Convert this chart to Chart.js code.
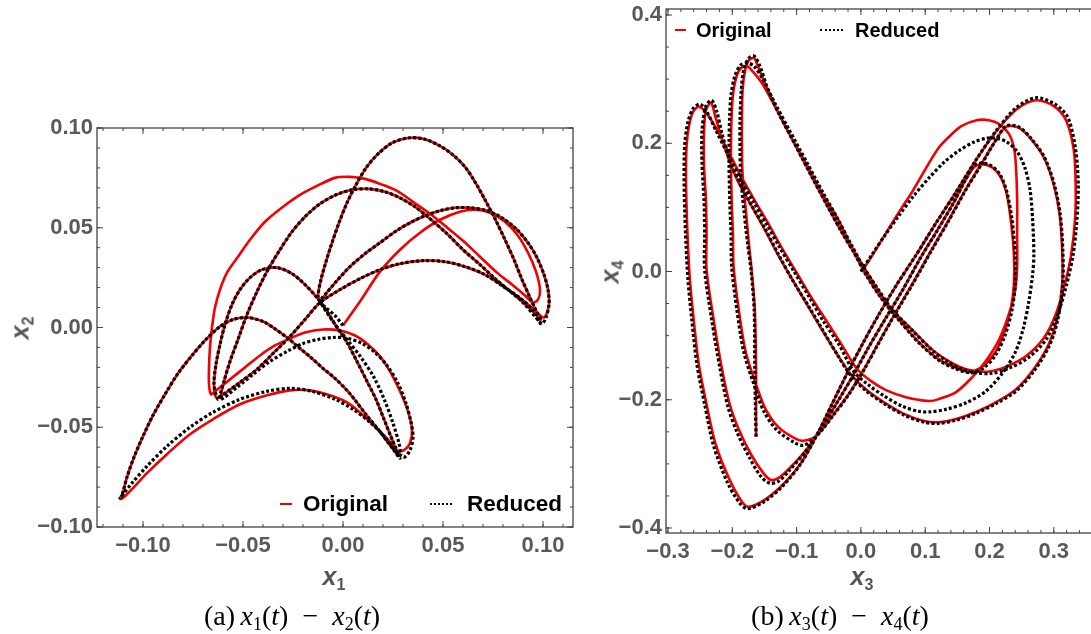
<!DOCTYPE html>
<html>
<head>
<meta charset="utf-8">
<script src="https://cdn.jsdelivr.net/npm/chart.js@4.4.1/dist/chart.umd.min.js"></script>
<style>
  body { margin: 0; width: 1091px; height: 634px; overflow: hidden; position: relative; background: #fff; font-family: "Liberation Sans", Arial, sans-serif; }
  canvas { position: absolute; }
  .sw { position: absolute; }
  .red { height: 2px; background: rgb(240,0,0); }
  .dot { border-top: 2px dotted #000; }
  .lt { position: absolute; font-weight: bold; color: #000; line-height: 1; transform: translateY(-50%); }
  .ax { position: absolute; font-weight: bold; font-style: italic; font-size: 25px; color: #555; line-height: 1; white-space: nowrap; }
  .ax sub { font-size: 16px; font-style: normal; vertical-align: -5px; }
  .cap { position: absolute; font-family: "Liberation Serif", "DejaVu Serif", serif; font-size: 28px; color: #000; white-space: nowrap; transform: translate(-50%, -50%); }
  .cap sub { font-size: 18px; vertical-align: -5px; }
</style>
</head>
<body>
<canvas id="chartA" width="600" height="600" style="left:0;top:0"></canvas>
<canvas id="chartB" width="520" height="630" style="left:590px;top:-30px"></canvas>

<!-- legends -->
<div class="sw red" style="left:280px;top:503px;width:12px"></div>
<div class="lt" style="left:303px;top:504px;font-size:22.5px">Original</div>
<div class="sw dot" style="left:430px;top:503px;width:22px"></div>
<div class="lt" style="left:467px;top:504px;font-size:22.5px">Reduced</div>

<div class="sw red" style="left:675px;top:29px;width:11px"></div>
<div class="lt" style="left:696px;top:30px;font-size:20px">Original</div>
<div class="sw dot" style="left:820px;top:29px;width:23px"></div>
<div class="lt" style="left:855px;top:30px;font-size:20px">Reduced</div>

<!-- axis titles -->
<div class="ax" style="left:334px;top:578px;transform:translate(-50%,-50%)">x<sub>1</sub></div>
<div class="ax" style="left:22px;top:328px;transform:translate(-50%,-50%) rotate(-90deg)">x<sub>2</sub></div>
<div class="ax" style="left:862px;top:578px;transform:translate(-50%,-50%)">x<sub>3</sub></div>
<div class="ax" style="left:612px;top:272px;transform:translate(-50%,-50%) rotate(-90deg)">x<sub>4</sub></div>

<!-- captions -->
<div class="cap" style="left:292px;top:617px">(a)&thinsp;<i>x</i><sub>1</sub>(<i>t</i>) &nbsp;&minus;&nbsp; <i>x</i><sub>2</sub>(<i>t</i>)</div>
<div class="cap" style="left:840px;top:617px">(b)&thinsp;<i>x</i><sub>3</sub>(<i>t</i>) &nbsp;&minus;&nbsp; <i>x</i><sub>4</sub>(<i>t</i>)</div>

<script>
// tick labels
const xTicksA = [-0.10, -0.05, 0, 0.05, 0.10];
const yTicksA = [-0.10, -0.05, 0, 0.05, 0.10];
const xTicksB = [-0.3, -0.2, -0.1, 0, 0.1, 0.2, 0.3];
const yTicksB = [-0.4, -0.2, 0, 0.2, 0.4];
const seriesNames = ['Original', 'Reduced'];

// (a) x1 - x2, original model  [x1, x2]
const origA = [
  [0.000,0.001],[0.0085,0.013],[0.0185,0.028],[0.0285,0.039],[0.0385,0.0475],[0.0485,0.054],[0.0585,0.058],[0.066,0.059],[0.0735,0.0575],[0.081,0.053],[0.0875,0.046],[0.0925,0.0375],[0.0965,0.028],[0.0985,0.019],[0.0975,0.014],[0.095,0.0125],
  [0.091,0.016],[0.0845,0.0215],[0.077,0.0275],[0.0685,0.0355],[0.06,0.0435],[0.051,0.051],[0.0435,0.057],[0.035,0.063],[0.027,0.0685],[0.0185,0.072],[0.011,0.0745],[0.0035,0.0755],[-0.004,0.075],[-0.013,0.071],[-0.0215,0.0665],[-0.03,0.0605],[-0.039,0.053],[-0.0465,0.044],[-0.0525,0.0355],[-0.058,0.0275],[-0.0615,0.019],[-0.064,0.01],[-0.0655,0.0],[-0.0665,-0.01],[-0.067,-0.02],[-0.067,-0.0285],[-0.066,-0.0335],
  [-0.064,-0.032],[-0.0565,-0.026],[-0.049,-0.02],[-0.0415,-0.014],[-0.034,-0.009],[-0.0265,-0.0055],[-0.019,-0.0025],[-0.01,-0.001],[-0.0015,-0.0015],[0.006,-0.004],[0.0125,-0.0085],[0.0185,-0.0145],[0.0235,-0.022],[0.0285,-0.032],[0.0325,-0.042],[0.0345,-0.051],[0.0335,-0.058],[0.0305,-0.0615],[0.0275,-0.062],
  [0.0245,-0.0585],[0.0185,-0.052],[0.011,-0.045],[0.0035,-0.0385],[-0.005,-0.0345],[-0.0165,-0.0315],[-0.0265,-0.0315],[-0.038,-0.034],[-0.0515,-0.0385],[-0.065,-0.046],[-0.0765,-0.0535],[-0.088,-0.0635],[-0.098,-0.073],[-0.1055,-0.081],[-0.1095,-0.085],[-0.111,-0.086],
  [-0.1105,-0.0845],[-0.108,-0.075],[-0.1045,-0.065],[-0.1,-0.0545],[-0.095,-0.044],[-0.089,-0.0335],[-0.0825,-0.023],[-0.0755,-0.014],[-0.0685,-0.006],[-0.0615,0.0005],[-0.055,0.004],[-0.0475,0.005],[-0.04,0.003],[-0.035,0.0],[-0.028,-0.005],[-0.0215,-0.0105],[-0.0155,-0.0155],[-0.01,-0.0205],[-0.004,-0.0255],[0.002,-0.0315],[0.0065,-0.037],[0.011,-0.043],[0.0175,-0.051],[0.0235,-0.059],[0.0275,-0.064],
  [0.0245,-0.056],[0.0205,-0.046],[0.0165,-0.036],[0.012,-0.027],[0.007,-0.017],[0.002,-0.0075],[-0.003,0.0],[-0.008,0.008],[-0.013,0.015],[-0.019,0.0215],[-0.0255,0.027],[-0.033,0.03],[-0.0405,0.029],[-0.0465,0.025],[-0.0515,0.019],[-0.0555,0.0115],[-0.059,0.0015],[-0.0615,-0.0085],[-0.0635,-0.0185],[-0.0645,-0.0285],[-0.0635,-0.035],
  [-0.0605,-0.034],[-0.0515,-0.0275],[-0.0425,-0.0205],[-0.034,-0.012],[-0.0265,-0.0045],[-0.019,0.004],[-0.0115,0.0125],[-0.0015,0.019],[0.0085,0.0245],[0.0185,0.029],[0.0285,0.032],[0.04,0.0335],[0.051,0.033],[0.061,0.0305],[0.071,0.0265],[0.081,0.02],[0.0895,0.014],[0.096,0.0085],[0.1005,0.005],
  [0.103,0.0115],[0.1025,0.019],[0.1005,0.0265],[0.097,0.035],[0.0925,0.0425],[0.0865,0.0495],[0.0795,0.055],[0.072,0.0585],[0.0635,0.06],[0.056,0.06],[0.0485,0.0585],[0.041,0.056],[0.0335,0.0525],[0.026,0.048],[0.0185,0.0425],[0.011,0.037],[0.0035,0.0305],[-0.003,0.0235],[-0.0085,0.017],[-0.0115,0.013],
  [-0.0125,0.016],[-0.011,0.024],[-0.0085,0.033],[-0.0055,0.0425],[-0.002,0.0525],[0.002,0.0625],[0.0065,0.0715],[0.0115,0.08],[0.0175,0.087],[0.0245,0.0925],[0.0325,0.095],[0.0405,0.0945],[0.0485,0.091],[0.055,0.0865],[0.061,0.0805],[0.066,0.073],[0.071,0.064],[0.076,0.0545],[0.081,0.044],[0.0855,0.034],[0.0895,0.024],[0.0935,0.015],[0.097,0.0075],[0.099,0.004],
  [0.097,0.006],[0.0895,0.013],[0.0825,0.019],[0.076,0.0245],[0.0685,0.0315],[0.06,0.039],[0.052,0.047],[0.0435,0.0545],[0.036,0.0605],[0.0285,0.065],[0.021,0.068],[0.013,0.0695],[0.0045,0.069],[-0.0035,0.0665],[-0.0115,0.062],[-0.019,0.0555],[-0.0255,0.048],[-0.0315,0.039],[-0.0375,0.029],[-0.043,0.018],[-0.048,0.0065],[-0.0525,-0.006],[-0.0565,-0.017],[-0.0595,-0.027],[-0.0615,-0.036]
];

// (a) x1 - x2, reduced model
const redA = [
  [0.0,0.001],[-0.004,0.006],[-0.008,0.0095],[-0.0115,0.013],
  [-0.0085,0.017],[-0.003,0.0235],[0.0035,0.0305],[0.011,0.037],[0.0185,0.0425],[0.026,0.048],[0.0335,0.0525],[0.041,0.056],[0.0485,0.0585],[0.056,0.06],[0.0635,0.06],[0.072,0.0585],[0.0795,0.055],[0.0865,0.0495],[0.0925,0.0425],[0.097,0.035],[0.1005,0.0265],[0.1025,0.019],[0.103,0.0115],[0.1015,0.005],[0.0995,0.002],
  [0.0965,0.005],[0.0895,0.013],[0.0825,0.019],[0.076,0.0245],[0.0685,0.0315],[0.06,0.039],[0.052,0.047],[0.0435,0.0545],[0.036,0.0605],[0.0285,0.065],[0.021,0.068],[0.013,0.0695],[0.0045,0.069],[-0.0035,0.0665],[-0.0115,0.062],[-0.019,0.0555],[-0.0255,0.048],[-0.0315,0.039],[-0.0375,0.029],[-0.043,0.018],[-0.048,0.0065],[-0.0525,-0.006],[-0.0565,-0.017],[-0.0595,-0.027],[-0.0615,-0.036],
  [-0.053,-0.03],[-0.045,-0.0235],[-0.0365,-0.017],[-0.028,-0.012],[-0.02,-0.008],[-0.0125,-0.006],[-0.005,-0.005],[0.0025,-0.0055],[0.0095,-0.008],[0.016,-0.0125],[0.022,-0.019],[0.0275,-0.028],[0.0315,-0.038],[0.034,-0.0475],[0.035,-0.055],[0.0335,-0.0615],[0.0305,-0.065],
  [0.0265,-0.062],[0.021,-0.055],[0.0135,-0.0475],[0.005,-0.041],[-0.004,-0.036],[-0.0155,-0.032],[-0.0265,-0.0305],[-0.038,-0.032],[-0.0515,-0.036],[-0.065,-0.0425],[-0.0765,-0.05],[-0.088,-0.0595],[-0.098,-0.0695],[-0.1055,-0.078],[-0.1095,-0.083],[-0.1115,-0.0855],
  [-0.1105,-0.084],[-0.108,-0.075],[-0.1045,-0.065],[-0.1,-0.0545],[-0.095,-0.044],[-0.089,-0.0335],[-0.0825,-0.023],[-0.0755,-0.014],[-0.0685,-0.006],[-0.0615,0.0005],[-0.055,0.004],[-0.0475,0.005],[-0.04,0.003],[-0.035,0.0],[-0.028,-0.005],[-0.0215,-0.0105],[-0.0155,-0.0155],[-0.01,-0.0205],[-0.004,-0.0255],[0.002,-0.0315],[0.0065,-0.037],[0.011,-0.043],[0.0175,-0.051],[0.024,-0.0595],[0.0285,-0.0655],
  [0.0245,-0.056],[0.0205,-0.046],[0.0165,-0.036],[0.012,-0.027],[0.007,-0.017],[0.002,-0.0075],[-0.003,0.0],[-0.008,0.008],[-0.013,0.015],[-0.019,0.0215],[-0.0255,0.027],[-0.033,0.03],[-0.0405,0.029],[-0.0465,0.025],[-0.0515,0.019],[-0.0555,0.0115],[-0.059,0.0015],[-0.0615,-0.0085],[-0.0635,-0.0185],[-0.0645,-0.0285],[-0.0625,-0.036],
  [-0.0605,-0.034],[-0.0515,-0.0275],[-0.0425,-0.0205],[-0.034,-0.012],[-0.0265,-0.0045],[-0.019,0.004],[-0.0115,0.0125],[-0.0015,0.019],[0.0085,0.0245],[0.0185,0.029],[0.0285,0.032],[0.04,0.0335],[0.051,0.033],[0.061,0.0305],[0.071,0.0265],[0.081,0.02],[0.0895,0.014],[0.096,0.0075],[0.0985,0.002],
  [0.099,0.004],[0.097,0.0075],[0.0935,0.015],[0.0895,0.024],[0.0855,0.034],[0.081,0.044],[0.076,0.0545],[0.071,0.064],[0.066,0.073],[0.061,0.0805],[0.055,0.0865],[0.0485,0.091],[0.0405,0.0945],[0.0325,0.095],[0.0245,0.0925],[0.0175,0.087],[0.0115,0.08],[0.0065,0.0715],[0.002,0.0625],[-0.002,0.0525],[-0.0055,0.0425],[-0.0085,0.033],[-0.011,0.024],[-0.0125,0.016],
  [-0.0115,0.013],[-0.005,0.003],[0.002,-0.006],[0.009,-0.015],[0.0155,-0.025],[0.021,-0.037],[0.025,-0.048],[0.028,-0.058],[0.029,-0.064]
];

// (b) x3 - x4, original model  [x3, x4]
const origB = [
  [0.000,0.000],[0.012,0.016],[0.028,0.042],[0.047,0.073],[0.064,0.100],[0.079,0.123],[0.100,0.159],[0.121,0.193],[0.140,0.213],[0.157,0.227],[0.180,0.236],[0.199,0.236],[0.215,0.230],[0.230,0.215],[0.238,0.193],[0.241,0.166],[0.243,0.112],[0.243,0.058],[0.243,0.008],[0.240,-0.028],[0.230,-0.067],[0.215,-0.106],[0.194,-0.140],[0.173,-0.165],[0.148,-0.188],[0.121,-0.199],[0.106,-0.202],[0.070,-0.196],[0.039,-0.185],[0.016,-0.171],[-0.006,-0.152],
  [-0.030,-0.114],[-0.053,-0.078],[-0.078,-0.039],[-0.101,0.000],[-0.123,0.037],[-0.143,0.073],[-0.163,0.107],[-0.185,0.146],[-0.205,0.185],[-0.224,0.221],[-0.240,0.247],[-0.252,0.257],[-0.261,0.249],[-0.267,0.229],[-0.271,0.198],[-0.272,0.151],[-0.271,0.096],[-0.269,0.042],[-0.266,-0.012],[-0.260,-0.075],[-0.252,-0.145],[-0.240,-0.207],[-0.226,-0.269],[-0.205,-0.323],[-0.185,-0.359],[-0.174,-0.367],[-0.148,-0.355],[-0.120,-0.331],[-0.092,-0.297],
  [-0.068,-0.254],[-0.045,-0.207],[-0.022,-0.160],[0.002,-0.114],[0.028,-0.067],[0.056,-0.020],[0.086,0.026],[0.117,0.076],[0.148,0.124],[0.179,0.174],[0.210,0.218],[0.241,0.252],[0.272,0.267],[0.300,0.258],[0.319,0.236],[0.331,0.190],[0.334,0.135],[0.333,0.081],[0.327,0.026],[0.317,-0.020],[0.303,-0.067],[0.285,-0.103],[0.258,-0.131],[0.227,-0.148],[0.199,-0.156],[0.171,-0.154],[0.152,-0.148],[0.132,-0.137],[0.110,-0.121],[0.079,-0.090],[0.048,-0.059],[0.023,-0.023],[0.002,0.011],[-0.016,0.042],[-0.037,0.084],[-0.061,0.123],[-0.086,0.170],[-0.112,0.216],[-0.135,0.260],[-0.154,0.294],[-0.170,0.314],[-0.177,0.320],[-0.187,0.317],[-0.194,0.302],[-0.199,0.275],[-0.201,0.244],[-0.202,0.205],[-0.202,0.163],[-0.201,0.112],[-0.199,0.058],[-0.198,0.008],[-0.190,-0.059],[-0.179,-0.126],[-0.163,-0.176],[-0.148,-0.215],[-0.128,-0.243],[-0.101,-0.261],[-0.089,-0.264],
  [-0.070,-0.257],[-0.042,-0.222],[-0.019,-0.191],[0.005,-0.152],[0.028,-0.110],[0.054,-0.064],[0.082,-0.016],[0.110,0.034],[0.137,0.081],[0.163,0.128],[0.191,0.174],[0.210,0.205],[0.226,0.226],[0.246,0.224],[0.266,0.205],[0.285,0.177],[0.300,0.135],[0.309,0.089],[0.313,0.034],[0.313,-0.020],[0.305,-0.075],[0.292,-0.114],[0.269,-0.152],[0.241,-0.184],[0.210,-0.204],[0.179,-0.219],[0.148,-0.230],[0.121,-0.235],[0.098,-0.233],[0.067,-0.222],[0.036,-0.204],[0.008,-0.184],[-0.016,-0.160],
  [-0.037,-0.129],[-0.061,-0.090],[-0.084,-0.051],[-0.107,-0.012],[-0.131,0.030],[-0.151,0.068],[-0.171,0.104],[-0.190,0.138],[-0.205,0.174],[-0.218,0.213],[-0.227,0.244],[-0.233,0.263],[-0.241,0.252],[-0.244,0.216],[-0.244,0.166],[-0.241,0.112],[-0.240,0.058],[-0.240,0.003],[-0.229,-0.075],[-0.216,-0.152],[-0.204,-0.207],[-0.190,-0.246],[-0.171,-0.285],[-0.152,-0.314],[-0.140,-0.325],[-0.128,-0.322],[-0.112,-0.308],
  [-0.084,-0.277],[-0.058,-0.238],[-0.034,-0.199],[-0.011,-0.160],[0.012,-0.118],[0.039,-0.072],[0.067,-0.025],[0.093,0.022],[0.121,0.068],[0.145,0.109],[0.163,0.143],[0.179,0.165],[0.199,0.165],[0.215,0.151],[0.226,0.124],[0.233,0.081],[0.238,0.026],[0.238,-0.020],[0.233,-0.059],[0.222,-0.098],[0.207,-0.129],[0.188,-0.149],[0.168,-0.156],[0.145,-0.149],[0.121,-0.137],[0.090,-0.110],[0.059,-0.075],[0.031,-0.040],[0.008,-0.005],[-0.011,0.030],[-0.030,0.062],[-0.053,0.104],[-0.078,0.151],[-0.104,0.201],[-0.128,0.247],[-0.146,0.286],[-0.159,0.317],[-0.166,0.333],[-0.174,0.330],[-0.180,0.314],[-0.184,0.283],[-0.185,0.236],[-0.185,0.190],[-0.184,0.151],[-0.179,0.096],[-0.174,0.042],[-0.170,0.003],[-0.165,-0.059],[-0.163,-0.152],[-0.163,-0.215],[-0.163,-0.258]
];

// (b) x3 - x4, reduced model
const redB = [
  [0.000,0.000],[0.017,0.026],[0.037,0.056],[0.059,0.087],[0.082,0.118],[0.106,0.146],[0.129,0.170],[0.152,0.188],[0.176,0.202],[0.196,0.208],[0.210,0.208],[0.227,0.202],[0.243,0.187],[0.255,0.162],[0.263,0.128],[0.267,0.081],[0.269,0.026],[0.267,-0.005],[0.261,-0.048],[0.253,-0.087],[0.241,-0.124],[0.222,-0.156],[0.194,-0.187],[0.163,-0.205],[0.132,-0.215],[0.106,-0.219],[0.090,-0.218],[0.064,-0.210],[0.036,-0.194],[0.012,-0.177],[-0.011,-0.156],
  [-0.034,-0.114],[-0.058,-0.078],[-0.081,-0.039],[-0.104,0.000],[-0.126,0.037],[-0.146,0.073],[-0.166,0.107],[-0.188,0.146],[-0.208,0.185],[-0.226,0.221],[-0.240,0.250],[-0.250,0.261],[-0.261,0.254],[-0.269,0.233],[-0.274,0.198],[-0.275,0.151],[-0.274,0.096],[-0.272,0.042],[-0.269,-0.012],[-0.263,-0.075],[-0.255,-0.145],[-0.243,-0.207],[-0.229,-0.272],[-0.208,-0.328],[-0.188,-0.362],[-0.176,-0.370],[-0.149,-0.358],[-0.121,-0.334],[-0.093,-0.299],
  [-0.068,-0.254],[-0.045,-0.207],[-0.022,-0.160],[0.002,-0.114],[0.028,-0.067],[0.056,-0.020],[0.086,0.026],[0.117,0.076],[0.148,0.124],[0.179,0.174],[0.210,0.219],[0.241,0.255],[0.272,0.271],[0.302,0.261],[0.322,0.240],[0.334,0.190],[0.338,0.135],[0.336,0.081],[0.330,0.026],[0.320,-0.020],[0.306,-0.067],[0.288,-0.106],[0.261,-0.134],[0.230,-0.151],[0.202,-0.159],[0.174,-0.157],[0.154,-0.151],[0.134,-0.140],[0.112,-0.124],[0.081,-0.093],[0.050,-0.061],[0.025,-0.025],[0.003,0.009],[-0.014,0.040],[-0.036,0.082],[-0.059,0.123],[-0.084,0.170],[-0.110,0.218],[-0.134,0.263],[-0.152,0.299],[-0.166,0.320],[-0.176,0.325],[-0.187,0.322],[-0.196,0.305],[-0.202,0.275],[-0.204,0.244],[-0.205,0.205],[-0.205,0.163],[-0.204,0.112],[-0.202,0.058],[-0.201,0.008],[-0.193,-0.059],[-0.182,-0.126],[-0.166,-0.177],[-0.151,-0.218],[-0.131,-0.247],[-0.103,-0.267],[-0.089,-0.271],
  [-0.070,-0.258],[-0.042,-0.223],[-0.019,-0.192],[0.005,-0.153],[0.028,-0.111],[0.054,-0.065],[0.082,-0.017],[0.110,0.033],[0.137,0.080],[0.163,0.127],[0.191,0.173],[0.210,0.205],[0.226,0.227],[0.246,0.225],[0.266,0.206],[0.286,0.177],[0.301,0.135],[0.310,0.089],[0.314,0.034],[0.314,-0.020],[0.306,-0.076],[0.293,-0.116],[0.270,-0.154],[0.242,-0.186],[0.210,-0.206],[0.179,-0.221],[0.148,-0.232],[0.121,-0.237],[0.098,-0.235],[0.067,-0.224],[0.036,-0.206],[0.008,-0.186],[-0.016,-0.162],
  [-0.036,-0.131],[-0.059,-0.092],[-0.082,-0.053],[-0.106,-0.014],[-0.129,0.028],[-0.149,0.067],[-0.170,0.103],[-0.188,0.137],[-0.204,0.174],[-0.216,0.215],[-0.224,0.249],[-0.232,0.267],[-0.241,0.258],[-0.247,0.221],[-0.247,0.166],[-0.244,0.112],[-0.243,0.058],[-0.243,0.003],[-0.232,-0.075],[-0.219,-0.152],[-0.207,-0.210],[-0.193,-0.250],[-0.174,-0.289],[-0.156,-0.319],[-0.142,-0.330],[-0.128,-0.327],[-0.112,-0.311],
  [-0.085,-0.279],[-0.059,-0.240],[-0.035,-0.201],[-0.012,-0.162],[0.011,-0.120],[0.038,-0.074],[0.066,-0.027],[0.092,0.020],[0.120,0.066],[0.144,0.107],[0.162,0.142],[0.178,0.167],[0.199,0.167],[0.216,0.152],[0.227,0.124],[0.235,0.081],[0.240,0.026],[0.240,-0.020],[0.235,-0.060],[0.224,-0.100],[0.209,-0.131],[0.190,-0.151],[0.170,-0.158],[0.146,-0.151],[0.122,-0.139],[0.091,-0.112],[0.060,-0.077],[0.032,-0.042],[0.009,-0.007],[-0.010,0.028],[-0.029,0.060],[-0.052,0.102],[-0.077,0.149],[-0.103,0.199],[-0.127,0.245],[-0.145,0.285],[-0.157,0.320],[-0.166,0.336],[-0.174,0.333],[-0.182,0.316],[-0.186,0.283],[-0.188,0.236],[-0.188,0.190],[-0.187,0.151],[-0.182,0.096],[-0.176,0.042],[-0.171,0.003],[-0.166,-0.059],[-0.165,-0.152],[-0.164,-0.215],[-0.163,-0.258]
];

const fmt = (v, d) => {
  const s = Math.abs(v).toFixed(d);
  return v < -1e-9 ? '\u2212' + s : s;
};

// frame with inward ticks on all four sides, Mathematica style
const frame = {
  id: 'frame',
  afterDatasetsDraw(chart, args, o) {
    const { ctx, chartArea: a, scales: { x, y } } = chart;
    ctx.save();
    ctx.strokeStyle = '#444';
    ctx.lineWidth = 1.3;
    ctx.strokeRect(a.left, a.top, a.right - a.left, a.bottom - a.top);
    ctx.lineWidth = 1;
    ctx.beginPath();
    const xMark = (v, len) => {
      const p = x.getPixelForValue(v);
      ctx.moveTo(p, a.bottom); ctx.lineTo(p, a.bottom - len);
      ctx.moveTo(p, a.top); ctx.lineTo(p, a.top + len);
    };
    const yMark = (v, len) => {
      const p = y.getPixelForValue(v);
      ctx.moveTo(a.left, p); ctx.lineTo(a.left + len, p);
      ctx.moveTo(a.right, p); ctx.lineTo(a.right - len, p);
    };
    o.xMajor.forEach(v => xMark(v, 6));
    o.yMajor.forEach(v => yMark(v, 6));
    for (let k = Math.ceil(x.min / o.xMinor); k * o.xMinor <= x.max; k++) xMark(k * o.xMinor, 3);
    for (let k = Math.ceil(y.min / o.yMinor); k * o.yMinor <= y.max; k++) yMark(k * o.yMinor, 3);
    ctx.stroke();
    ctx.restore();
  }
};

const tickFont = { family: 'Liberation Sans', size: 22, weight: 'bold' };

function makePanel(id, orig, red, cfg) {
  new Chart(document.getElementById(id), {
    type: 'scatter',
    data: {
      datasets: [
        {
          label: seriesNames[1],
          data: red.map(p => ({ x: p[0], y: p[1] })),
          showLine: true, pointRadius: 0, borderColor: '#000', borderWidth: 3.2,
          borderDash: [3, 2.2], tension: 0.3, order: 0
        },
        {
          label: seriesNames[0],
          data: orig.map(p => ({ x: p[0], y: p[1] })),
          showLine: true, pointRadius: 0, borderColor: 'rgb(240,0,0)', borderWidth: 2.6,
          tension: 0.3, order: 1
        }
      ]
    },
    options: {
      responsive: false,
      animation: false,
      layout: { padding: { left: 0, top: cfg.padTop, right: cfg.padRight, bottom: 0 } },
      plugins: {
        legend: { display: false },
        tooltip: { enabled: false },
        frame: { xMajor: cfg.xTicks, yMajor: cfg.yTicks, xMinor: cfg.xMinor, yMinor: cfg.yMinor }
      },
      scales: {
        x: {
          type: 'linear', min: cfg.xMin, max: cfg.xMax,
          grid: { display: false, drawTicks: false }, border: { display: false },
          afterBuildTicks: s => { s.ticks = cfg.xTicks.map(v => ({ value: v })); },
          afterFit: s => { s.height = cfg.xH; },
          ticks: { font: tickFont, color: '#595959', padding: 6, maxRotation: 0, autoSkip: false,
                   callback: v => fmt(v, cfg.dec) }
        },
        y: {
          type: 'linear', min: cfg.yMin, max: cfg.yMax,
          grid: { display: false, drawTicks: false }, border: { display: false },
          afterBuildTicks: s => { s.ticks = cfg.yTicks.map(v => ({ value: v })); },
          afterFit: s => { s.width = cfg.yW; },
          ticks: { font: tickFont, color: '#595959', padding: 4, autoSkip: false,
                   callback: v => fmt(v, cfg.dec) }
        }
      }
    },
    plugins: [frame]
  });
}

makePanel('chartA', origA, redA, {
  xMin: -0.123, xMax: 0.115, yMin: -0.1, yMax: 0.1,
  xTicks: xTicksA, yTicks: yTicksA, xMinor: 0.01, yMinor: 0.01, dec: 2,
  padTop: 128, padRight: 27, yW: 97, xH: 73
});

// right frame edge lies beyond the window, as in the cropped original
makePanel('chartB', origB, redB, {
  xMin: -0.3031, xMax: 0.3874, yMin: -0.4078, yMax: 0.4094,
  xTicks: xTicksB, yTicks: yTicksB, xMinor: 0.02, yMinor: 0.05, dec: 1,
  padTop: 39, padRight: 0, yW: 76, xH: 67
});
</script>
</body>
</html>
